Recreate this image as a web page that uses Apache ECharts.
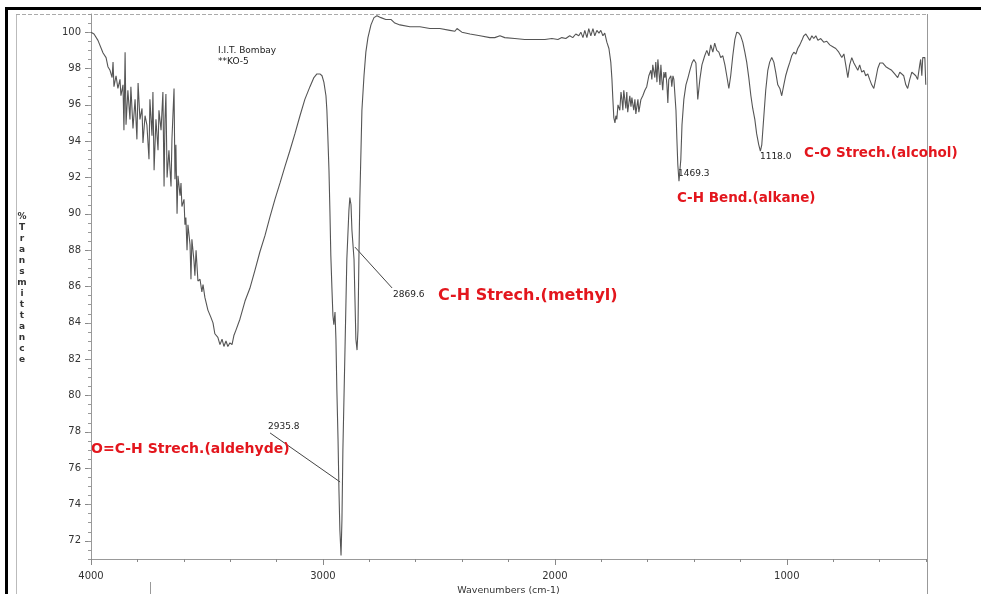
<!DOCTYPE html>
<html><head><meta charset="utf-8">
<script src="https://cdn.jsdelivr.net/npm/echarts@6/dist/echarts.min.js"></script>
<style>html,body{margin:0;padding:0;background:#fff}#c{width:981px;height:594px}</style>
</head><body><div id="c"></div>
<script>
// ---- data ----
const wavenumber = [
4000,3987,3970,3948,3935,3927,3918,3909,3905,3901,
3892,3884,3875,3871,3862,3858,3853,3849,3841,3832,
3828,3819,3810,3802,3797,3789,3780,3776,3767,3759,
3750,3746,3737,3733,3728,3720,3711,3707,3698,3690,
3685,3681,3677,3672,3664,3655,3651,3642,3638,3634,
3629,3625,3616,3612,3608,3599,3595,3591,3586,3582,
3573,3569,3565,3556,3552,3547,3539,3530,3522,3517,
3509,3496,3483,3474,3466,3453,3444,3435,3427,3418,
3410,3401,3392,3384,3375,3358,3336,3315,3293,3272,
3250,3229,3207,3185,3164,3142,3121,3099,3078,3056,
3039,3026,3013,3004,2996,2987,2983,2979,2974,2970,
2966,2961,2957,2953,2948,2944,2940,2935,2931,2927,
2922,2918,2914,2905,2897,2888,2884,2879,2875,2866,
2862,2858,2853,2849,2845,2841,2836,2832,2823,2815,
2806,2793,2780,2767,2750,2729,2707,2690,2668,2625,
2582,2539,2496,2453,2431,2422,2401,2366,2323,2280,
2259,2237,2216,2173,2130,2087,2043,2013,1987,1970,
1953,1936,1923,1910,1897,1888,1879,1871,1862,1854,
1845,1836,1828,1819,1810,1802,1793,1785,1776,1767,
1759,1754,1750,1746,1741,1737,1733,1728,1720,1715,
1711,1707,1703,1694,1690,1686,1677,1672,1668,1660,
1655,1651,1642,1638,1629,1621,1612,1604,1595,1586,
1582,1578,1569,1565,1560,1556,1547,1543,1539,1535,
1530,1526,1522,1517,1513,1509,1500,1496,1491,1487,
1478,1474,1470,1465,1457,1452,1444,1435,1426,1418,
1409,1401,1392,1384,1375,1366,1354,1345,1336,1328,
1319,1311,1302,1293,1285,1276,1267,1259,1250,1242,
1233,1224,1216,1207,1199,1190,1181,1173,1164,1155,
1147,1138,1130,1121,1114,1108,1099,1091,1082,1074,
1065,1056,1048,1039,1030,1022,1013,1005,996,987,
979,970,961,953,944,935,927,918,910,901,
892,884,875,866,854,841,828,815,802,789,
776,763,754,746,737,729,720,711,703,694,
686,677,668,660,651,643,634,625,617,608,
599,586,573,561,548,535,522,513,505,496,
487,479,470,461,453,444,436,427,423,418,414,405,401
];
const transmittance = [
100.0,99.9,99.55,98.85,98.6,98.1,97.9,97.5,98.35,97.0,
97.6,96.9,97.4,96.5,97.1,94.6,98.9,94.9,96.8,95.2,
97.0,94.7,96.3,94.1,97.2,95.2,95.8,93.9,95.4,94.9,
93.0,96.3,94.3,96.7,92.4,95.2,93.5,95.7,94.6,96.7,
91.5,95.2,96.6,92.0,93.5,91.5,94.1,96.9,91.9,93.8,
90.0,92.1,91.0,91.7,90.4,90.8,89.4,89.8,88.0,89.4,
88.3,86.4,88.6,87.4,86.6,88.0,86.3,86.4,85.7,86.1,
85.4,84.7,84.3,84.0,83.4,83.2,82.8,83.1,82.7,83.0,
82.7,82.9,82.8,83.3,83.6,84.2,85.2,85.9,86.9,87.9,
88.8,89.8,90.8,91.7,92.6,93.5,94.4,95.4,96.3,97.0,
97.5,97.7,97.7,97.6,97.25,96.5,95.7,94.3,92.4,90.2,
87.7,85.8,84.4,83.9,84.6,83.1,80.3,77.6,74.8,72.6,
71.2,73.2,77.0,82.5,87.5,90.2,90.9,90.5,89.1,87.5,
85.3,83.1,82.5,83.6,87.5,90.8,93.5,95.7,97.6,98.9,
99.7,100.4,100.8,100.9,100.8,100.7,100.7,100.5,100.4,100.3,
100.3,100.2,100.2,100.1,100.05,100.2,100.0,99.9,99.8,99.7,
99.7,99.8,99.7,99.65,99.6,99.6,99.6,99.65,99.6,99.7,
99.65,99.8,99.7,99.9,99.8,100.0,99.7,100.1,99.7,100.2,
99.8,100.2,99.8,100.1,99.95,100.1,99.8,99.95,99.45,99.1,
98.35,97.4,96.3,95.3,95.0,95.4,95.2,96.0,95.7,96.7,
96.3,95.7,96.8,95.8,96.7,95.6,96.5,95.9,96.4,95.7,
96.3,95.5,96.3,95.6,96.3,96.5,96.8,97.0,97.6,97.9,
97.4,98.2,97.5,98.35,97.25,98.5,97.1,98.2,97.4,96.8,
97.8,97.5,97.8,97.1,96.1,97.4,97.6,97.0,97.6,97.4,
95.7,94.1,92.7,91.8,93.0,94.9,96.3,97.1,97.5,97.9,
98.3,98.5,98.3,96.3,97.4,98.2,98.7,99.0,98.7,99.3,
98.9,99.4,99.0,98.9,98.6,98.7,98.2,97.6,96.9,97.6,
98.7,99.6,100.0,99.95,99.8,99.45,98.9,98.35,97.5,96.5,
95.8,95.2,94.4,93.8,93.45,93.8,95.4,96.8,97.9,98.35,
98.6,98.35,97.8,97.1,96.9,96.5,97.1,97.6,98.0,98.35,
98.7,98.9,98.8,99.1,99.3,99.55,99.8,99.9,99.8,99.55,
99.8,99.65,99.8,99.55,99.65,99.45,99.5,99.3,99.2,99.1,
98.9,98.6,98.8,98.2,97.5,98.2,98.6,98.3,98.35,97.9,
98.2,97.8,97.9,97.6,97.7,97.4,97.1,96.9,97.4,98.0,
98.3,98.3,98.1,98.0,97.9,97.7,97.5,97.8,97.9,97.6,
97.1,96.9,97.4,97.8,97.9,97.6,97.4,98.2,98.5,97.6,98.6,98.6,97.1
];
const xTickLabels = [4000, 3000, 2000, 1000];
const xMinorTicks = [4000,3800,3600,3400,3200,3000,2800,2600,2400,2200,2000,1800,1600,1400,1200,1000,800,600,400];
const yTickLabels = [100,98,96,94,92,90,88,86,84,82,80,78,76,74,72];
const yMinorTicks = [];
for (let v = 71; v <= 101; v += 0.5) yMinorTicks.push(v);
const peakText = ['2935.8', '2869.6', '1469.3', '1118.0'];
const peakAt = [[3237, 78.27], [2698, 85.53], [1469, 92.19], [1116, 93.13]];
const leaderFrom = [[3228, 77.94], [2862, 88.17]];
const leaderTo = [[2926, 75.24], [2702, 85.92]];
const bandText = ['O=C-H Strech.(aldehyde)', 'C-H Strech.(methyl)', 'C-H Bend.(alkane)', 'C-O Strech.(alcohol)'];
const bandAt = [[4000, 77.05], [2504, 85.48], [1474, 90.87], [926, 93.3]];
const bandSize = [14, 16, 13.5, 13.5];

// ---- chart ----
const chart = echarts.init(document.getElementById('c'), null, {renderer: 'canvas'});
const points = wavenumber.map((w, i) => [w, transmittance[i]]);
const FONT = 'DejaVu Sans';
const axisCommon = {type: 'value', min: 400, max: 4000, inverse: true, position: 'bottom', splitLine: {show: false}};
chart.setOption({
  animation: false,
  backgroundColor: '#fff',
  grid: {left: 91, right: 55, top: 14, bottom: 35, containLabel: false, outerBoundsMode: 'none'},
  xAxis: [
    Object.assign({}, axisCommon, {
      axisLine: {show: true, lineStyle: {color: '#999', width: 1}},
      axisTick: {show: true, customValues: xTickLabels, length: 6, lineStyle: {color: '#888'}},
      axisLabel: {customValues: xTickLabels, formatter: v => String(v), color: '#333', fontFamily: FONT, fontSize: 10, margin: 12},
      name: 'Wavenumbers (cm-1)', nameLocation: 'middle', nameGap: 26,
      nameTextStyle: {color: '#333', fontFamily: FONT, fontSize: 9.5}
    }),
    Object.assign({}, axisCommon, {
      axisLine: {show: false},
      axisTick: {show: true, customValues: xMinorTicks, length: 3, lineStyle: {color: '#888'}},
      axisLabel: {show: false}
    })
  ],
  yAxis: [
    {type: 'value', min: 71, max: 101, position: 'left', splitLine: {show: false},
     axisLine: {show: true, lineStyle: {color: '#999', width: 1}},
     axisTick: {show: true, customValues: yTickLabels, length: 6, lineStyle: {color: '#888'}},
     axisLabel: {customValues: yTickLabels, formatter: v => String(v), color: '#333', fontFamily: FONT, fontSize: 10, margin: 10}},
    {type: 'value', min: 71, max: 101, position: 'left', splitLine: {show: false},
     axisLine: {show: false},
     axisTick: {show: true, customValues: yMinorTicks, length: 3, lineStyle: {color: '#999'}},
     axisLabel: {show: false}}
  ],
  series: [{
    type: 'line', data: points, xAxisIndex: 0, yAxisIndex: 0,
    showSymbol: false, symbol: 'none', smooth: false,
    lineStyle: {color: '#555', width: 1.1}
  }]
});

const px = p => chart.convertToPixel({seriesIndex: 0}, p);
const graphics = [
  // scanned page frame
  {type: 'rect', shape: {x: 5, y: 7, width: 976, height: 3}, style: {fill: '#000'}},
  {type: 'rect', shape: {x: 5, y: 7, width: 3, height: 587}, style: {fill: '#000'}},
  {type: 'line', shape: {x1: 16.5, y1: 14, x2: 16.5, y2: 594}, style: {stroke: '#bbb', lineWidth: 1}},
  {type: 'line', shape: {x1: 16, y1: 14.5, x2: 927, y2: 14.5}, style: {stroke: '#aaa', lineWidth: 1, lineDash: [4, 2]}},
  {type: 'line', shape: {x1: 927.5, y1: 14, x2: 927.5, y2: 594}, style: {stroke: '#999', lineWidth: 1}},
  {type: 'line', shape: {x1: 150.5, y1: 582, x2: 150.5, y2: 594}, style: {stroke: '#999', lineWidth: 1}},
  // header text
  {type: 'text', x: 218, y: 45, style: {text: 'I.I.T. Bombay\n**KO-5', fill: '#222', font: '9px "DejaVu Sans"', lineHeight: 11}},
  // y axis name, stacked
  {type: 'text', x: 22, y: 288, style: {text: '%Transmittance'.split('').join('\n'), fill: '#333', font: 'bold 9px "DejaVu Sans"', lineHeight: 11, align: 'center', verticalAlign: 'middle'}}
];
leaderFrom.forEach((f, i) => {
  const a = px(f), b = px(leaderTo[i]);
  graphics.push({type: 'line', shape: {x1: a[0], y1: a[1], x2: b[0], y2: b[1]}, style: {stroke: '#444', lineWidth: 1}});
});
peakText.forEach((t, i) => {
  const p = px(peakAt[i]);
  graphics.push({type: 'text', x: p[0], y: p[1], style: {text: t, fill: '#222', font: '9px "DejaVu Sans"', verticalAlign: 'middle', align: 'left'}});
});
bandText.forEach((t, i) => {
  const p = px(bandAt[i]);
  graphics.push({type: 'text', x: p[0], y: p[1], style: {text: t, fill: '#e3161d', font: 'bold ' + bandSize[i] + 'px "DejaVu Sans"', verticalAlign: 'middle', align: 'left'}});
});
chart.setOption({graphic: graphics});
</script></body></html>
